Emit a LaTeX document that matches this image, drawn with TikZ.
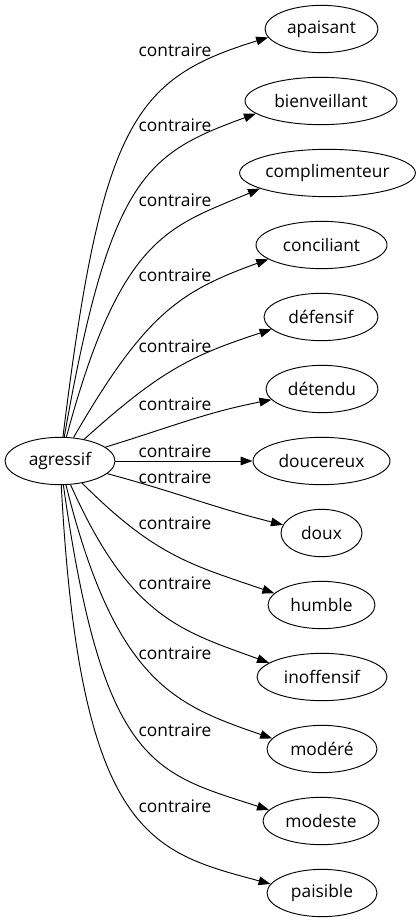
\documentclass[tikz,border=0pt]{standalone}
\usepackage{fontspec}
\setmainfont{Open Sans}
\usetikzlibrary{arrows.meta, shapes.geometric}
\tikzset{
  every picture/.style={line width=0.7pt},
  word/.style={ellipse, draw, inner sep=0pt, minimum height=35.5pt, minimum width=#1*0.75pt, font=\fontsize{13}{15}\selectfont},
  word/.default=110,
  arrow/.style={-{Triangle[length=9pt, width=6.5pt]}},
  lab/.style={font=\fontsize{13}{15}\selectfont},
}
\begin{document}
\begin{tikzpicture}[x=0.75pt, y=-0.75pt]
  \useasboundingbox (0,0) rectangle (420,923);
  \node[word=110] (agr) at (60,461) {agressif};
  \node[word=113] (apa) at (321.5,29) {apaisant};
  \node[word=152] (bie) at (321,101) {bienveillant};
  \node[word=175] (com) at (327.5,173) {complimenteur};
  \node[word=131] (con) at (321.5,245) {conciliant};
  \node[word=114] (def) at (321,317) {défensif};
  \node[word=112] (det) at (322,389) {détendu};
  \node[word=137] (dou) at (321.5,461) {doucereux};
  \node[word=81] (dox) at (321.5,533) {doux};
  \node[word=107] (hum) at (321.5,605) {humble};
  \node[word=130] (ino) at (322,677) {inoffensif};
  \node[word=110] (mdr) at (322,749) {modéré};
  \node[word=116] (mds) at (321,821) {modeste};
  \node[word=110] (pai) at (322,893) {paisible};
  % upper fan
  \draw[arrow] (agr) to[out=83, in=197, out looseness=1.8, in looseness=0.8] (apa.189);
  \draw[arrow] (agr) to[out=80, in=200, out looseness=1.8, in looseness=0.8] (bie.191);
  \draw[arrow] (agr) to[out=75, in=203, out looseness=1.7, in looseness=0.8] (com.193);
  \draw[arrow] (agr) to[out=60, in=200, out looseness=1.4, in looseness=0.9] (con.195);
  \draw[arrow] (agr) to[out=42, in=198, out looseness=1.2] (def.194);
  \draw[arrow] (agr) to[out=17, in=191] (det.192);
  \draw[arrow] (agr) -- (dou);
  % lower fan
  \draw[arrow] (agr) to[out=-15, in=166] (dox.168);
  \draw[arrow] (agr) to[out=-45, in=161, out looseness=1.2] (hum.166);
  \draw[arrow] (agr) to[out=-66, in=160, out looseness=1.4, in looseness=0.9] (ino.165);
  \draw[arrow] (agr) to[out=-76, in=161, out looseness=1.6, in looseness=0.8] (mdr.168);
  \draw[arrow] (agr) to[out=-82, in=162, out looseness=1.9, in looseness=0.8] (mds.168);
  \draw[arrow] (agr) to[out=-87, in=165, out looseness=2.0, in looseness=0.7] (pai.170);
  \node[lab] (l1) at (175,50) {contraire};
  \node[lab] (l2) at (175,125) {contraire};
  \node[lab] (l3) at (175,200) {contraire};
  \node[lab] (l4) at (175,275) {contraire};
  \node[lab] (l5) at (175,346) {contraire};
  \node[lab] (l6) at (175,404) {contraire};
  \node[lab] (l7) at (175,451) {contraire};
  \node[lab] (l8) at (175,477) {contraire};
  \node[lab] (l9) at (175,523) {contraire};
  \node[lab] (l10) at (175,583) {contraire};
  \node[lab] (l11) at (175,653) {contraire};
  \node[lab] (l12) at (175,730) {contraire};
  \node[lab] (l13) at (175,806) {contraire};
\end{tikzpicture}
\end{document}
